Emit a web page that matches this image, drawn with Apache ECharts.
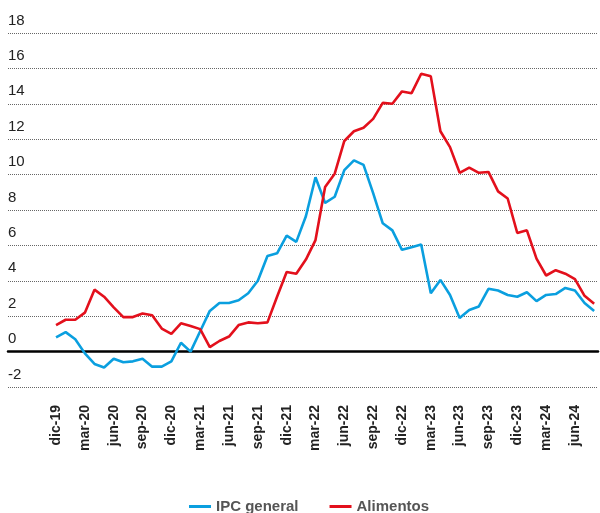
<!DOCTYPE html>
<html>
<head>
<meta charset="utf-8">
<script src="https://cdn.jsdelivr.net/npm/echarts@6/dist/echarts.min.js"></script>
<style>
  html, body { margin: 0; padding: 0; background: #fff; }
  #chart { width: 600px; height: 513px; }
</style>
</head>
<body>
<div id="chart"></div>
<script>
// meses dic-19 .. ago-24
var meses = ['dic-19', 'ene-20', 'feb-20', 'mar-20', 'abr-20', 'may-20', 'jun-20', 'jul-20', 'ago-20', 'sep-20', 'oct-20', 'nov-20',
  'dic-20', 'ene-21', 'feb-21', 'mar-21', 'abr-21', 'may-21', 'jun-21', 'jul-21', 'ago-21', 'sep-21', 'oct-21', 'nov-21',
  'dic-21', 'ene-22', 'feb-22', 'mar-22', 'abr-22', 'may-22', 'jun-22', 'jul-22', 'ago-22', 'sep-22', 'oct-22', 'nov-22',
  'dic-22', 'ene-23', 'feb-23', 'mar-23', 'abr-23', 'may-23', 'jun-23', 'jul-23', 'ago-23', 'sep-23', 'oct-23', 'nov-23',
  'dic-23', 'ene-24', 'feb-24', 'mar-24', 'abr-24', 'may-24', 'jun-24', 'jul-24', 'ago-24']

var ipcGeneral = [0.8, 1.1, 0.7, -0.1, -0.7, -0.9, -0.4, -0.6, -0.55, -0.4, -0.85, -0.85,
  -0.55, 0.5, 0.0, 1.15, 2.3, 2.75, 2.75, 2.9, 3.3, 4.0, 5.4, 5.55,
  6.55, 6.2, 7.65, 9.85, 8.4, 8.75, 10.25, 10.8, 10.55, 8.95, 7.25, 6.85,
  5.75, 5.9, 6.05, 3.3, 4.05, 3.2, 1.9, 2.35, 2.55, 3.55, 3.45, 3.2,
  3.1, 3.35, 2.85, 3.2, 3.25, 3.6, 3.45, 2.75, 2.3]

var alimentos = [1.5, 1.8, 1.8, 2.2, 3.5, 3.1, 2.5, 1.95, 1.95, 2.15, 2.05, 1.3,
  1.0, 1.6, 1.45, 1.27, 0.25, 0.6, 0.85, 1.5, 1.65, 1.6, 1.65, 3.1,
  4.5, 4.4, 5.2, 6.3, 9.3, 10.05, 11.9, 12.45, 12.65, 13.15, 14.05, 14.0,
  14.7, 14.6, 15.7, 15.55, 12.45, 11.55, 10.1, 10.4, 10.1, 10.15, 9.05, 8.65,
  6.7, 6.85, 5.25, 4.3, 4.6, 4.4, 4.1, 3.15, 2.7]

var ticksY = [-2, 0, 2, 4, 6, 8, 10, 12, 14, 16, 18]

var chart = echarts.init(document.getElementById('chart'))

function pares(arr) {
  return arr.map(function (v, i) { return [i, v] })
}

var fuente = "'Liberation Sans', Arial, sans-serif"

var option = {
  animation: false,
  color: ['#0a9fdf', '#e3101c'],
  grid: {
    left: 8,
    right: 2,
    top: 33,
    bottom: 126
  },
  legend: {
    top: 494,
    left: 184,
    icon: 'rect',
    itemWidth: 22,
    itemHeight: 3,
    itemGap: 31,
    textStyle: {
      fontFamily: fuente,
      fontSize: 15,
      fontWeight: 'bold',
      color: '#555'
    },
    data: ['IPC general', 'Alimentos']
  },
  xAxis: [{
    // etiquetas de meses
    type: 'value',
    min: -5,
    max: 56.4,
    interval: 1,
    axisLine: { show: false, onZero: false },
    axisTick: { show: false },
    splitLine: { show: false },
    axisLabel: {
      rotate: 90,
      margin: 18,
      fontFamily: fuente,
      fontSize: 14,
      fontWeight: 'bold',
      color: '#222',
      showMinLabel: false,
      showMaxLabel: false,
      formatter: function (v) {
        if (v >= 0 && v % 3 === 0 && meses[v]) return meses[v]
        return ''
      }
    }
  }, {
    // linea del cero
    type: 'value',
    min: -5,
    max: 56.4,
    interval: 1,
    position: 'bottom',
    axisLine: { show: true, onZero: true, lineStyle: { color: '#000', width: 2.5 } },
    axisTick: { show: false },
    axisLabel: { show: false },
    splitLine: { show: false }
  }],
  yAxis: {
    type: 'value',
    min: ticksY[0],
    max: ticksY[ticksY.length - 1],
    interval: 2,
    axisLine: { show: false },
    axisTick: { show: false },
    axisLabel: {
      inside: true,
      margin: 0,
      verticalAlign: 'bottom',
      padding: [0, 0, 5, 0],
      fontFamily: fuente,
      fontSize: 15,
      color: '#222'
    },
    splitLine: {
      lineStyle: { color: '#666', type: [1, 1], width: 1 }
    }
  },
  series: [{
    name: 'IPC general',
    type: 'line',
    showSymbol: false,
    symbol: 'none',
    lineStyle: { width: 2.6 },
    data: pares(ipcGeneral)
  }, {
    name: 'Alimentos',
    type: 'line',
    showSymbol: false,
    symbol: 'none',
    lineStyle: { width: 2.6 },
    data: pares(alimentos)
  }]
}

chart.setOption(option)
</script>
</body>
</html>
